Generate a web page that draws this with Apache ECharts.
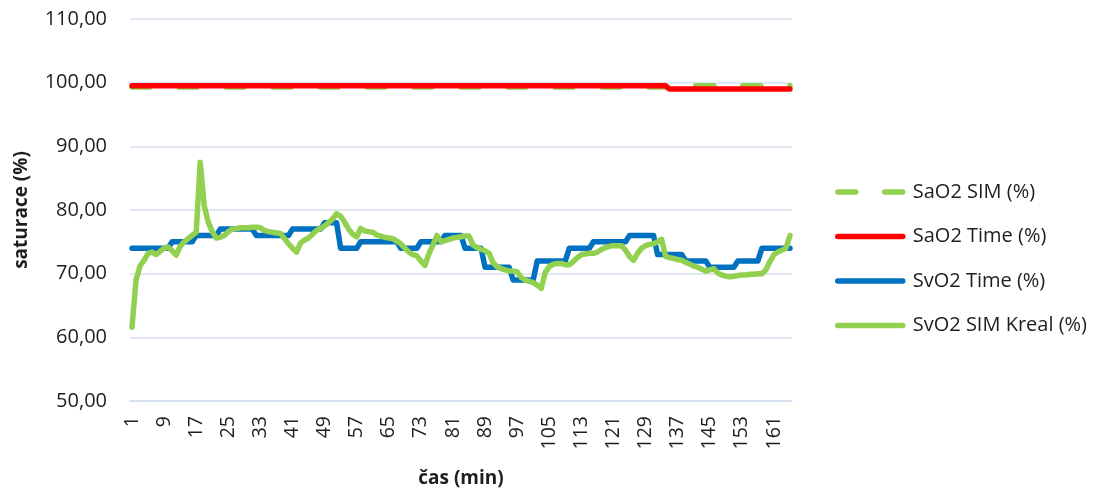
<!DOCTYPE html>
<html>
<head>
<meta charset="utf-8">
<script src="https://cdn.jsdelivr.net/npm/echarts@6/dist/echarts.min.js"></script>
<style>
  html, body { margin: 0; padding: 0; background: #ffffff; }
  #chart { width: 1102px; height: 493px; }
</style>
</head>
<body>
<div id="chart"></div>
<script>
// Time axis: one category per minute
const minutes = [];
for (let m = 1; m <= 165; m++) minutes.push(String(m));

// Y axis range and step (saturation in %)
const yMin = 50;
const yMax = 110;
const yStep = 10;

// Series names
const seriesNames = ['SaO2 SIM (%)', 'SaO2 Time (%)', 'SvO2 Time (%)', 'SvO2 SIM Kreal (%)'];

// SaO2 SIM (%)
const sao2Sim = [
  99.3, 99.3, 99.3, 99.3, 99.3, 99.3, 99.3, 99.3, 99.3, 99.3,
  99.3, 99.3, 99.3, 99.3, 99.3, 99.3, 99.3, 99.3, 99.3, 99.3,
  99.3, 99.3, 99.3, 99.3, 99.3, 99.3, 99.3, 99.3, 99.3, 99.3,
  99.3, 99.3, 99.3, 99.3, 99.3, 99.3, 99.3, 99.3, 99.3, 99.3,
  99.3, 99.3, 99.3, 99.3, 99.3, 99.3, 99.3, 99.3, 99.3, 99.3,
  99.3, 99.3, 99.3, 99.3, 99.3, 99.3, 99.3, 99.3, 99.3, 99.3,
  99.3, 99.3, 99.3, 99.3, 99.3, 99.3, 99.3, 99.3, 99.3, 99.3,
  99.3, 99.3, 99.3, 99.3, 99.3, 99.3, 99.3, 99.3, 99.3, 99.3,
  99.3, 99.3, 99.3, 99.3, 99.3, 99.3, 99.3, 99.3, 99.3, 99.3,
  99.3, 99.3, 99.3, 99.3, 99.3, 99.3, 99.3, 99.3, 99.3, 99.3,
  99.3, 99.3, 99.3, 99.3, 99.3, 99.3, 99.3, 99.3, 99.3, 99.3,
  99.3, 99.3, 99.3, 99.3, 99.3, 99.3, 99.3, 99.3, 99.3, 99.3,
  99.3, 99.3, 99.3, 99.3, 99.3, 99.3, 99.3, 99.3, 99.3, 99.3,
  99.3, 99.3, 99.3, 99.3, 99.5, 99.5, 99.5, 99.5, 99.5, 99.5,
  99.5, 99.5, 99.5, 99.5, 99.5, 99.5, 99.5, 99.5, 99.5, 99.5,
  99.5, 99.5, 99.5, 99.5, 99.5, 99.5, 99.5, 99.5, 99.5, 99.5,
  99.5, 99.5, 99.5, 99.5, 99.5
];

// SaO2 Time (%)
const sao2Time = [
  99.5, 99.5, 99.5, 99.5, 99.5, 99.5, 99.5, 99.5, 99.5, 99.5,
  99.5, 99.5, 99.5, 99.5, 99.5, 99.5, 99.5, 99.5, 99.5, 99.5,
  99.5, 99.5, 99.5, 99.5, 99.5, 99.5, 99.5, 99.5, 99.5, 99.5,
  99.5, 99.5, 99.5, 99.5, 99.5, 99.5, 99.5, 99.5, 99.5, 99.5,
  99.5, 99.5, 99.5, 99.5, 99.5, 99.5, 99.5, 99.5, 99.5, 99.5,
  99.5, 99.5, 99.5, 99.5, 99.5, 99.5, 99.5, 99.5, 99.5, 99.5,
  99.5, 99.5, 99.5, 99.5, 99.5, 99.5, 99.5, 99.5, 99.5, 99.5,
  99.5, 99.5, 99.5, 99.5, 99.5, 99.5, 99.5, 99.5, 99.5, 99.5,
  99.5, 99.5, 99.5, 99.5, 99.5, 99.5, 99.5, 99.5, 99.5, 99.5,
  99.5, 99.5, 99.5, 99.5, 99.5, 99.5, 99.5, 99.5, 99.5, 99.5,
  99.5, 99.5, 99.5, 99.5, 99.5, 99.5, 99.5, 99.5, 99.5, 99.5,
  99.5, 99.5, 99.5, 99.5, 99.5, 99.5, 99.5, 99.5, 99.5, 99.5,
  99.5, 99.5, 99.5, 99.5, 99.5, 99.5, 99.5, 99.5, 99.5, 99.5,
  99.5, 99.5, 99.5, 99.5, 99.0, 99.0, 99.0, 99.0, 99.0, 99.0,
  99.0, 99.0, 99.0, 99.0, 99.0, 99.0, 99.0, 99.0, 99.0, 99.0,
  99.0, 99.0, 99.0, 99.0, 99.0, 99.0, 99.0, 99.0, 99.0, 99.0,
  99.0, 99.0, 99.0, 99.0, 99.0
];

// SvO2 Time (%)
const svo2Time = [
  74, 74, 74, 74, 74, 74, 74, 74, 74, 74,
  75, 75, 75, 75, 75, 75, 76, 76, 76, 76,
  76, 76, 77, 77, 77, 77, 77, 77, 77, 77,
  77, 76, 76, 76, 76, 76, 76, 76, 76, 76,
  77, 77, 77, 77, 77, 77, 77, 77, 78, 78,
  78, 78, 74, 74, 74, 74, 74, 75, 75, 75,
  75, 75, 75, 75, 75, 75, 75, 74, 74, 74,
  74, 74, 75, 75, 75, 75, 75, 75, 76, 76,
  76, 76, 76, 74, 74, 74, 74, 74, 71, 71,
  71, 71, 71, 71, 71, 69, 69, 69, 69, 69,
  69, 72, 72, 72, 72, 72, 72, 72, 72, 74,
  74, 74, 74, 74, 74, 75, 75, 75, 75, 75,
  75, 75, 75, 75, 76, 76, 76, 76, 76, 76,
  76, 73, 73, 73, 73, 73, 73, 73, 72, 72,
  72, 72, 72, 72, 71, 71, 71, 71, 71, 71,
  71, 72, 72, 72, 72, 72, 72, 74, 74, 74,
  74, 74, 74, 74, 74
];

// SvO2 SIM Kreal (%)
const svo2SimKreal = [
  61.6, 69.0, 71.2, 72.1, 73.2, 73.4, 73.0, 73.5, 74.0, 74.2,
  73.6, 72.9, 74.3, 75.0, 75.5, 76.0, 76.5, 87.5, 80.7, 78.1,
  76.6, 75.6, 75.7, 76.0, 76.6, 77.0, 77.1, 77.2, 77.2, 77.2,
  77.3, 77.3, 77.2, 76.8, 76.6, 76.5, 76.4, 76.3, 75.5, 74.7,
  74.0, 73.4, 74.8, 75.3, 75.6, 76.2, 76.8, 77.1, 77.5, 78.0,
  78.6, 79.4, 79.0, 78.1, 77.0, 76.2, 75.8, 77.1, 76.7, 76.6,
  76.5, 76.1, 75.9, 75.7, 75.6, 75.5, 75.1, 74.7, 74.0, 73.4,
  73.0, 72.8, 72.0, 71.3, 73.1, 74.5, 76.0, 75.0, 75.2, 75.4,
  75.6, 75.7, 75.8, 75.9, 75.9, 74.5, 74.1, 73.8, 73.6, 73.2,
  71.7, 71.1, 70.8, 70.6, 70.4, 70.4, 70.3, 69.4, 69.0, 68.8,
  68.6, 68.2, 67.7, 70.2, 71.1, 71.5, 71.6, 71.6, 71.4, 71.4,
  71.9, 72.5, 73.0, 73.1, 73.2, 73.2, 73.4, 73.8, 74.1, 74.3,
  74.4, 74.4, 74.4, 73.7, 72.7, 72.1, 73.2, 74.0, 74.4, 74.6,
  74.7, 75.0, 75.4, 72.7, 72.5, 72.4, 72.2, 72.1, 71.8, 71.5,
  71.2, 71.0, 70.7, 70.4, 70.6, 70.8, 70.1, 69.8, 69.6, 69.5,
  69.6, 69.7, 69.8, 69.8, 69.9, 69.9, 70.0, 70.0, 70.6, 71.9,
  73.0, 73.4, 73.7, 74.0, 76.0
];

const FONT = '"Open Sans", "Noto Sans", sans-serif';
const TEXT = '#1e1e1e';
const GRID = '#d6dfee';
const LINE_W = 5.5;

const chart = echarts.init(document.getElementById('chart'), null, { renderer: 'canvas' });

function lineSeries(name, data, color, type) {
  return {
    name: name,
    type: 'line',
    data: data,
    symbol: 'none',
    smooth: false,
    animation: false,
    lineStyle: { color: color, width: LINE_W, type: type, cap: 'round', join: 'round' },
    itemStyle: { color: color }
  };
}

chart.setOption({
  animation: false,
  backgroundColor: '#ffffff',
  grid: { left: 130, right: 310, top: 19, bottom: 90, containLabel: false },
  legend: {
    orient: 'vertical',
    left: 830,
    top: 177,
    itemWidth: 65,
    itemHeight: 20,
    itemGap: 24.5,
    itemStyle: { opacity: 0 },
    lineStyle: { width: LINE_W, cap: 'round' },
    textStyle: { fontFamily: FONT, fontSize: 20, color: TEXT, padding: [0, 0, 0, 5] },
    data: seriesNames
  },
  xAxis: {
    type: 'category',
    data: minutes,
    boundaryGap: true,
    name: 'čas (min)',
    nameLocation: 'middle',
    nameGap: 68,
    nameTextStyle: { fontFamily: FONT, fontSize: 19, fontWeight: 'bold', color: TEXT },
    axisLine: { show: true, lineStyle: { color: GRID, width: 1.5 } },
    axisTick: { show: false },
    axisLabel: {
      interval: 7,
      rotate: 90,
      margin: 15,
      fontFamily: FONT,
      fontSize: 19.5,
      color: TEXT
    },
    splitLine: { show: false }
  },
  yAxis: {
    type: 'value',
    min: yMin,
    max: yMax,
    interval: yStep,
    name: 'saturace (%)',
    nameLocation: 'middle',
    nameGap: 99,
    nameTextStyle: { fontFamily: FONT, fontSize: 19, fontWeight: 'bold', color: TEXT },
    axisLine: { show: false },
    axisTick: { show: false },
    axisLabel: {
      margin: 23,
      fontFamily: FONT,
      fontSize: 20,
      color: TEXT,
      formatter: function (v) { return v.toFixed(2).replace('.', ','); }
    },
    splitLine: { show: true, lineStyle: { color: GRID, width: 1.5 } }
  },
  series: [
    lineSeries(seriesNames[0], sao2Sim, '#92d050', [18, 29]),
    lineSeries(seriesNames[1], sao2Time, '#ff0000', 'solid'),
    lineSeries(seriesNames[2], svo2Time, '#0070c0', 'solid'),
    lineSeries(seriesNames[3], svo2SimKreal, '#92d050', 'solid')
  ]
});
</script>
</body>
</html>
